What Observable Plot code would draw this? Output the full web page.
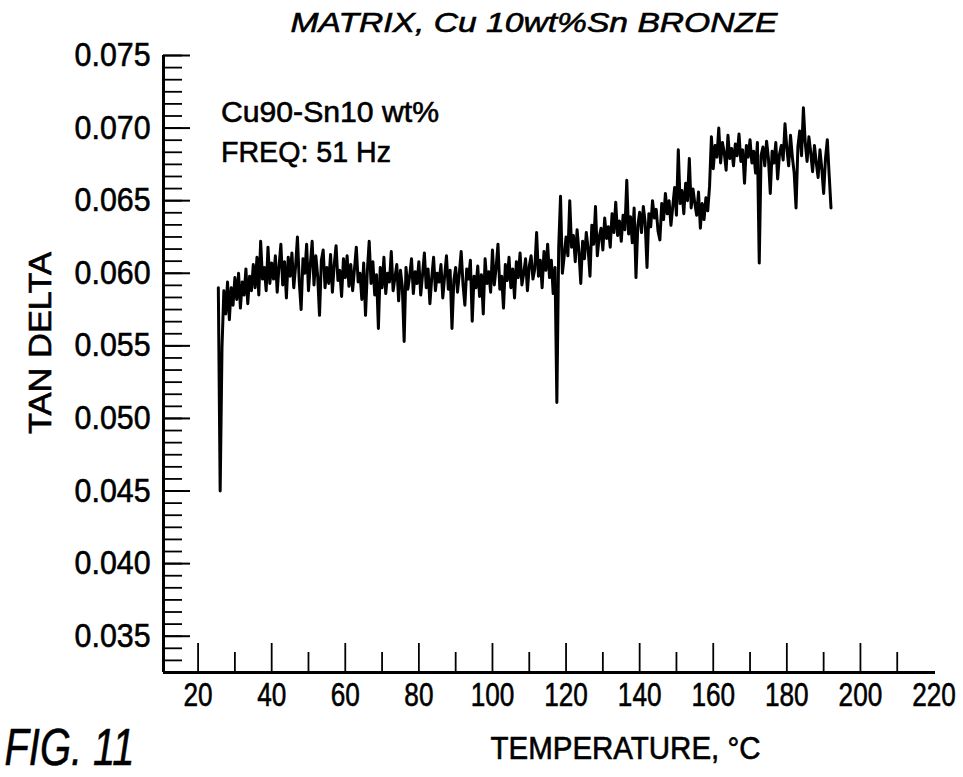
<!DOCTYPE html>
<html>
<head>
<meta charset="utf-8">
<script src="https://cdn.jsdelivr.net/npm/d3@7"></script>
<script src="https://cdn.jsdelivr.net/npm/@observablehq/plot@0.6"></script>
<style>
  html, body { margin: 0; padding: 0; background: #fff; }
  svg text { stroke: #000; stroke-width: 0.6px; }
</style>
</head>
<body>
<div id="chart"></div>
<script>
// ---- text ----
const titleText = "MATRIX, Cu 10wt%Sn BRONZE";
const noteLine1 = "Cu90-Sn10 wt%";
const noteLine2 = "FREQ: 51 Hz";
const xLabelText = "TEMPERATURE, \u00B0C";
const yLabelText = "TAN DELTA";
const figText = "FIG. 11";

// ---- axes ----
const xDomain = [10.6, 220.4];
const yDomain = [0.0325, 0.075];
const xTickLabels = [20, 40, 60, 80, 100, 120, 140, 160, 180, 200, 220];
const xMajorTicks = [20, 40, 60, 80, 100, 120, 140, 160, 180, 200];
const xMinorTicks = [30, 50, 70, 90, 110, 130, 150, 170, 190, 210];
const yTickLabels = [0.035, 0.040, 0.045, 0.050, 0.055, 0.060, 0.065, 0.070, 0.075];
const yMinorStep = 0.005 / 6;
const yMinorTicks = d3.range(0, 52).map(i => yDomain[0] + i * yMinorStep);

// ---- data: tan delta (x 1e-4) sampled every 0.5 °C starting at 25.5 °C ----
const tempStart = 25.5;
const tempStep = 0.5;
const tanDelta1e4 = [
  590, 450, 549, 588, 572, 594, 568, 590, 578, 597,
  582, 600, 576, 594, 585, 603, 579, 598, 588, 606,
  590, 611, 585, 622, 596, 604, 588, 618, 593, 607,
  596, 612, 587, 605, 620, 592, 608, 583, 611, 598,
  614, 590, 605, 625, 594, 575, 610, 600, 620, 588,
  606, 622, 592, 612, 598, 571, 609, 616, 590, 604,
  593, 613, 587, 606, 619, 595, 602, 584, 610, 597,
  612, 591, 606, 588, 603, 618, 594, 600, 582, 607,
  571, 602, 622, 593, 608, 585, 599, 562, 604, 590,
  611, 586, 600, 594, 615, 588, 597, 606, 581, 602,
  591, 553, 604, 589, 598, 610, 586, 601, 593, 608,
  585, 599, 614, 590, 603, 579, 597, 611, 588, 600,
  594, 606, 583, 598, 612, 589, 602, 562, 595, 604,
  587, 600, 615, 592, 578, 603, 596, 609, 567, 598,
  590, 605, 584, 599, 572, 610, 593, 601, 587, 616,
  592, 604, 620, 589, 598, 576, 606, 595, 611, 590,
  603, 583, 608, 597, 614, 592, 600, 610, 588, 605,
  612, 596, 603, 628, 598, 609, 590, 615, 602, 620,
  597, 609, 586, 604, 511, 618, 653, 600, 612, 625,
  612, 650, 618, 626, 608, 630, 615, 593, 622, 610,
  628, 617, 598, 633, 620, 646, 612, 625, 631, 616,
  638, 624, 632, 618, 641, 628, 649, 626, 636, 622,
  640, 630, 664, 627, 639, 621, 645, 597, 633, 642,
  628, 646, 635, 604, 641, 632, 650, 638, 644, 629,
  623, 648, 637, 655, 641, 650, 633, 646, 659, 640,
  685, 648, 657, 641, 662, 650, 679, 645, 658, 648,
  640, 656, 631, 648, 637, 652, 643, 660, 694, 672,
  688, 680, 700, 676, 690, 683, 671, 695, 679, 686,
  674, 689, 681, 696, 677, 685, 662, 688, 680, 692,
  676, 684, 669, 690, 607, 681, 687, 674, 691, 679,
  655, 684, 676, 690, 665, 682, 688, 678, 703, 686,
  674, 695, 680, 669, 645, 687, 698, 681, 714, 690,
  677, 694, 683, 670, 688, 676, 666, 685, 672, 655,
  679, 692, 668, 645
];
const data = tanDelta1e4.map((v, i) => ({temp: tempStart + i * tempStep, tan: v / 10000}));

// ---- layout ----
const W = 963, H = 777;
const mL = 163, mR = 28, mT = 55, mB = 105;
const plotW = W - mL - mR, plotH = H - mT - mB;
const fontFam = "'Liberation Sans', Arial, Helvetica, sans-serif";

const chart = Plot.plot({
  width: W,
  height: H,
  marginLeft: mL,
  marginRight: mR,
  marginTop: mT,
  marginBottom: mB,
  style: {fontFamily: fontFam, fontSize: "30px", color: "#000", background: "#fff", overflow: "visible"},
  x: {domain: xDomain},
  y: {domain: yDomain},
  marks: [
    // inward tick marks
    Plot.ruleY(yMinorTicks, {stroke: "#000", strokeWidth: 1.8, insetRight: plotW - 19}),
    Plot.ruleY(yTickLabels, {stroke: "#000", strokeWidth: 2, insetRight: plotW - 27}),
    Plot.ruleX(xMinorTicks, {stroke: "#000", strokeWidth: 1.8, insetTop: plotH - 20}),
    Plot.ruleX(xMajorTicks, {stroke: "#000", strokeWidth: 1.8, insetTop: plotH - 29}),
    // axis lines
    Plot.ruleX([xDomain[0]], {stroke: "#000", strokeWidth: 3}),
    Plot.ruleY([yDomain[0]], {stroke: "#000", strokeWidth: 3}),
    // tick labels
    Plot.axisY({ticks: yTickLabels, tickSize: 0, tickPadding: 13, tickFormat: d3.format(".3f"),
      label: null, fontSize: 33}),
    Plot.axisX({ticks: xTickLabels, tickSize: 0, tickPadding: 9, tickFormat: d => String(d),
      label: null, fontSize: 34}),
    // data
    Plot.line(data, {x: "temp", y: "tan", stroke: "#000", strokeWidth: 3, strokeLinejoin: "round"}),
    // texts
    Plot.text([titleText], {text: d => d, frameAnchor: "top-left", dx: 127, dy: -23.5,
      textAnchor: "start", lineAnchor: "bottom", fontStyle: "italic", fontSize: 28}),
    Plot.text([noteLine1], {text: d => d, frameAnchor: "top-left", dx: 57.5, dy: 66.5,
      textAnchor: "start", lineAnchor: "bottom", fontSize: 30}),
    Plot.text([noteLine2], {text: d => d, frameAnchor: "top-left", dx: 57.5, dy: 106.5,
      textAnchor: "start", lineAnchor: "bottom", fontSize: 30}),
    Plot.text([yLabelText], {text: d => d, frameAnchor: "left", dx: -122.5, dy: -21,
      rotate: -90, textAnchor: "middle", lineAnchor: "middle", fontSize: 31}),
    Plot.text([xLabelText], {text: d => d, frameAnchor: "bottom-left", dx: 327, dy: 86,
      textAnchor: "start", lineAnchor: "bottom", fontSize: 31}),
    Plot.text([figText], {text: d => d, frameAnchor: "bottom-left", dx: -159, dy: 92,
      textAnchor: "start", lineAnchor: "bottom", fontStyle: "italic", fontSize: 52})
  ]
});

// fit the lettering widths of the scanned original
const fitWidths = new Map([
  [titleText, 487],
  [noteLine1, 218],
  [noteLine2, 170],
  [xLabelText, 270],
  [yLabelText, 182],
  [figText, 130]
]);
const svg = d3.select(chart);
svg.selectAll("text").each(function () {
  const w = fitWidths.get(this.textContent);
  if (w) d3.select(this).attr("textLength", w).attr("lengthAdjust", "spacingAndGlyphs");
});
// narrow the tick lettering horizontally around each label's anchor
function squeeze(selector, sx) {
  svg.selectAll(selector).each(function () {
    const t = d3.select(this);
    t.attr("transform", (t.attr("transform") || "") + ` scale(${sx},1)`);
  });
}
squeeze('g[aria-label="y-axis tick label"] text', 0.92);
squeeze('g[aria-label="x-axis tick label"] text', 0.77);

document.getElementById("chart").appendChild(chart);
</script>
</body>
</html>
